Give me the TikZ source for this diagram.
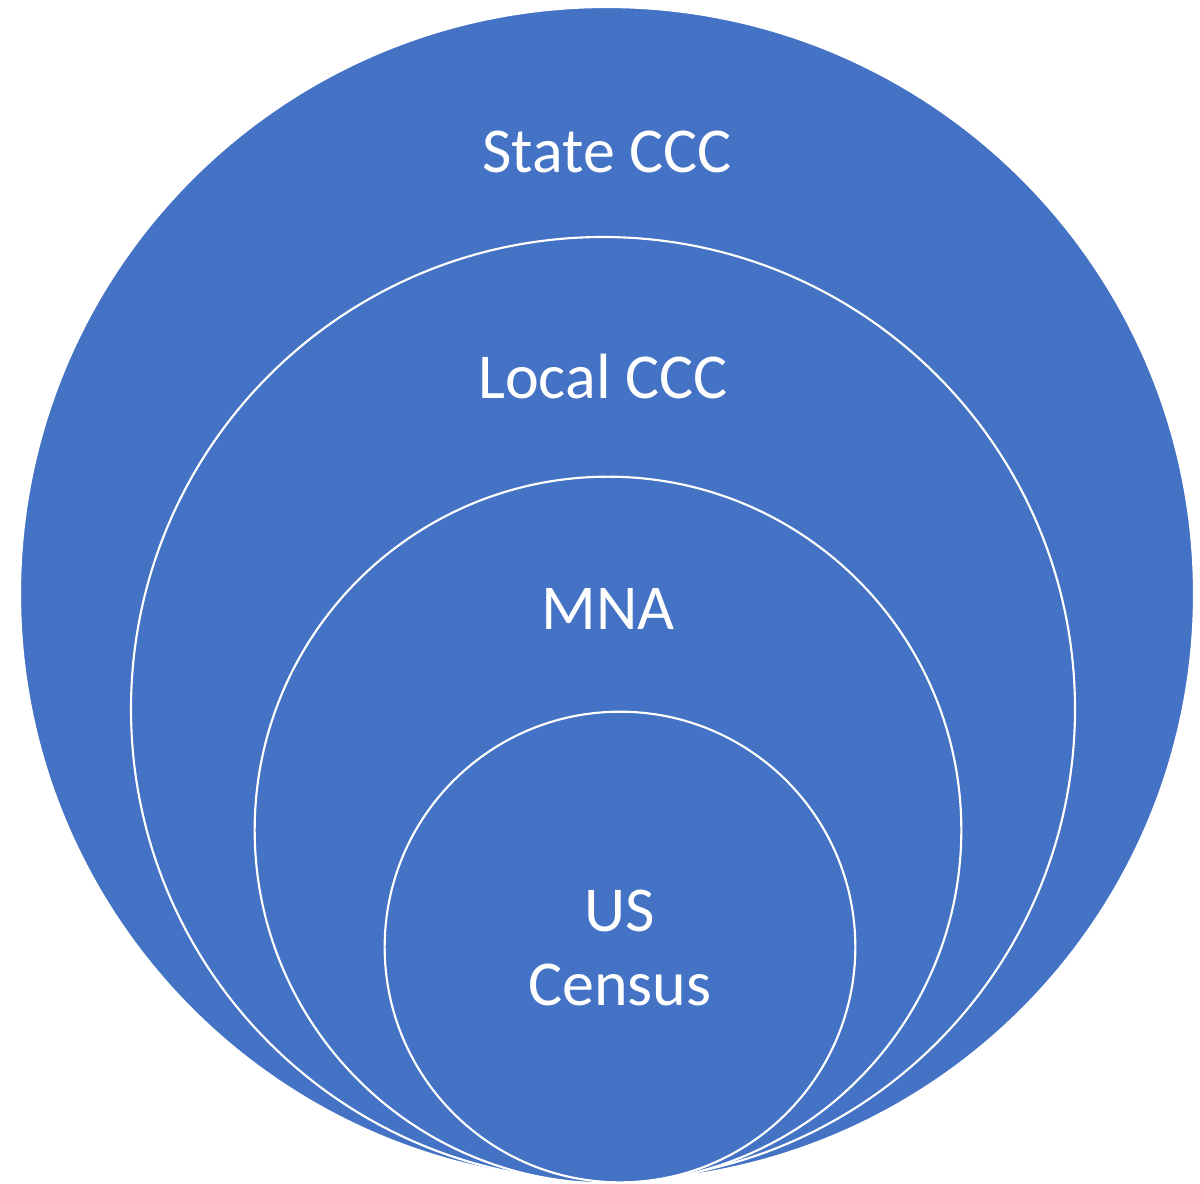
\documentclass[tikz,border=0pt]{standalone}
\usepackage{fontspec}
\setmainfont{Carlito}
\usepackage{tikz}
\definecolor{ringblue}{RGB}{68,114,196}
\tikzset{every picture/.style={line width=0.75pt}}
\tikzset{
  ring/.style={circle, inner sep=0pt, fill=ringblue, draw=white, line width=1.6pt},
  ringlabel/.style={inner sep=0.75pt, text=white, align=center, font=\fontsize{48}{55}\selectfont}
}

\begin{document}
\begin{tikzpicture}[x=0.75pt,y=0.75pt,yscale=-1,xscale=1]
\useasboundingbox (0,0) rectangle (1200,1183);

%Shape: Circle [id:state]
\node [ring, minimum size=880.5pt] (state) at (607,594) {};
%Shape: Circle [id:local]
\node [ring, minimum size=708pt] (local) at (603,709) {};
%Shape: Circle [id:mna]
\node [ring, minimum size=530pt] (mna) at (608,830) {};
%Shape: Circle [id:census]
\node [ring, minimum size=353pt] (census) at (620,947) {};

\node [ringlabel] (statelbl) at (607,152) {State CCC};
\node [ringlabel] (locallbl) at (603,377) {Local CCC};
\node [ringlabel] (mnalbl) at (608,609) {MNA};
\node [ringlabel] (censuslbl) at (620,948) {US\\Census};
\end{tikzpicture}
\end{document}
